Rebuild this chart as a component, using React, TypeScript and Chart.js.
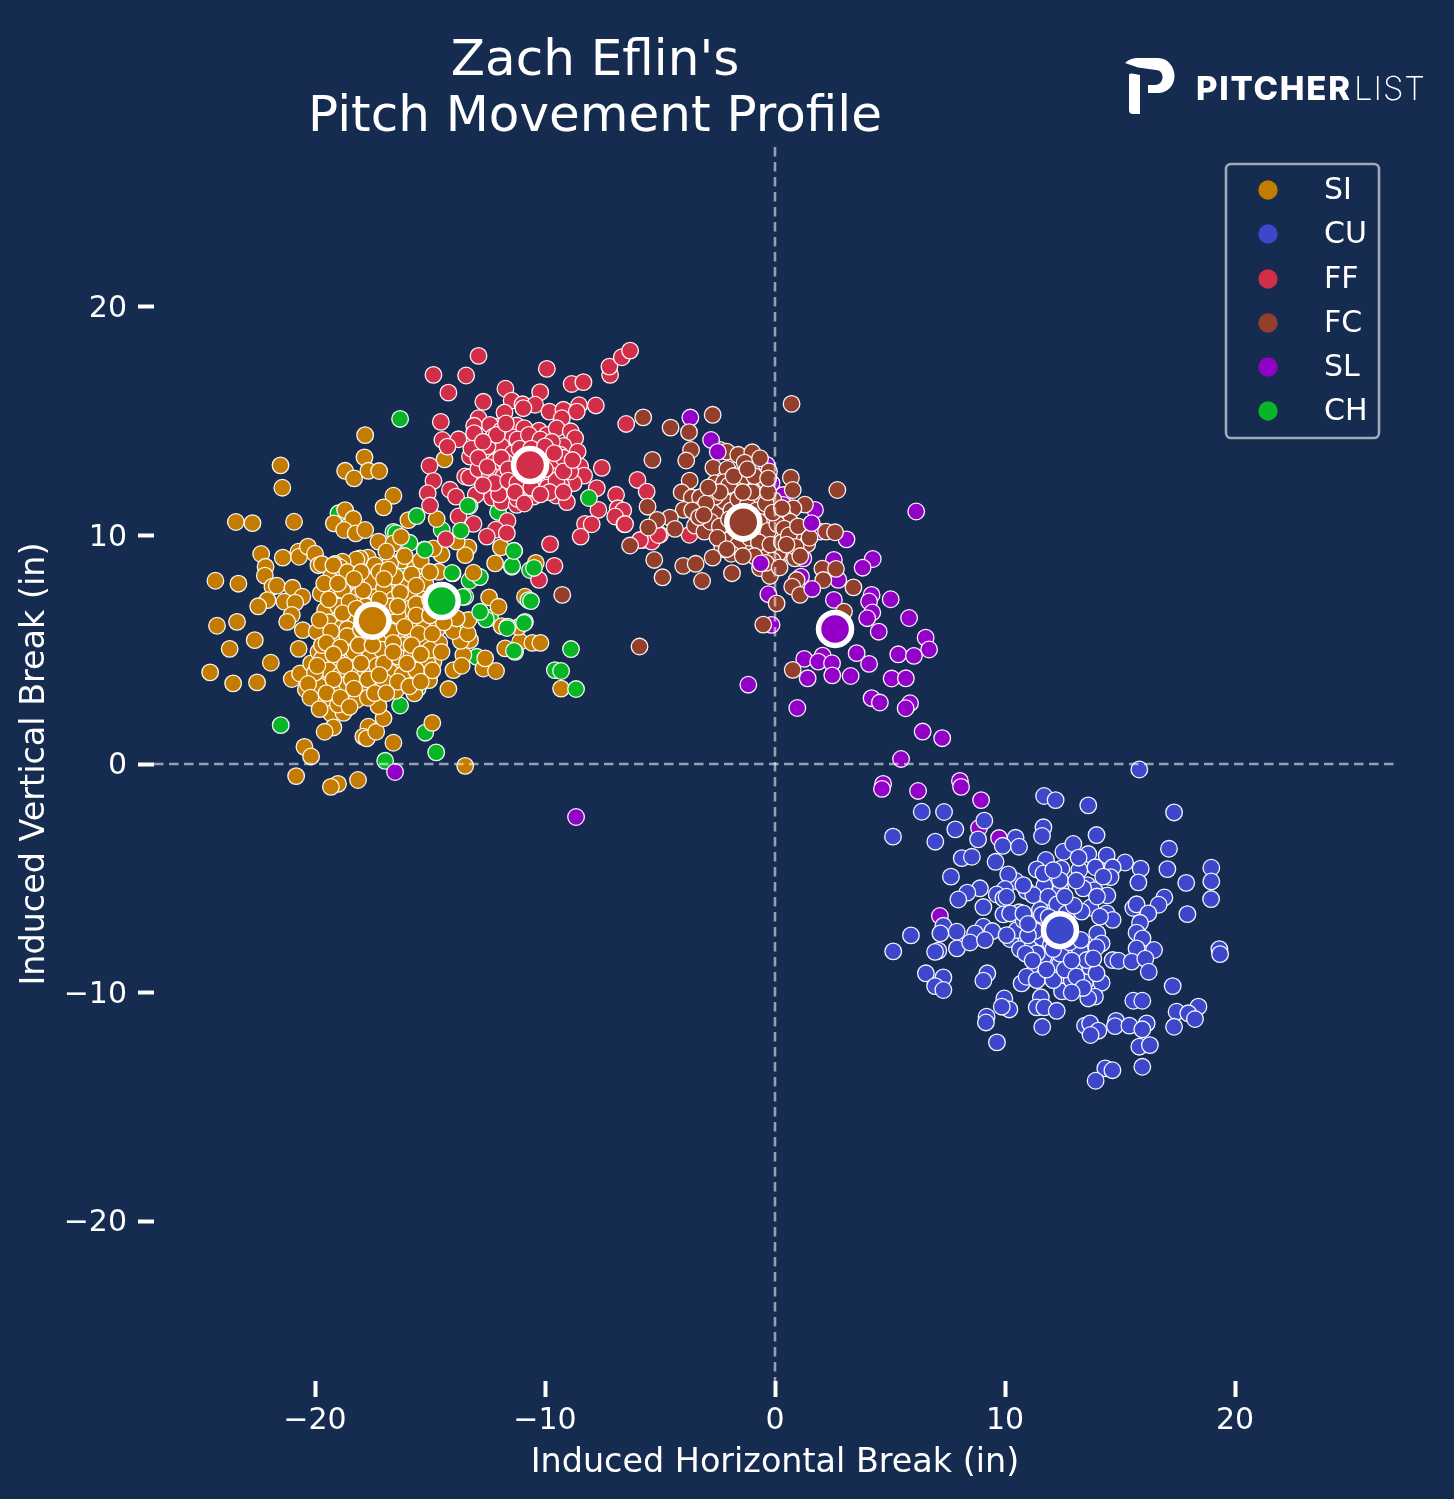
import React, { useEffect, useRef } from "react";
import { Chart, registerables } from "chart.js";

Chart.register(...registerables);

const FONT = "'DejaVu Sans'";
const BG = "#162B50";
const tickVals = [-20, -10, 0, 10, 20];
const legendNames = ["SI", "CU", "FF", "FC", "SL", "CH"];
const colors: Record<string, string> = { SI: "#C47C00", CU: "#3C47CC", FF: "#D22D49", FC: "#933F2C", SL: "#9300C7", CH: "#07B526" };

const siPts = [[-17.82,14.39],[-21.5,13.07],[-21.42,12.09],[-17.85,13.42],[-18.69,12.83],[-18.3,12.5],[-17.68,12.83],[-17.21,12.82],[-16.59,11.74],[-17.02,11.23],[-23.44,10.59],[-22.72,10.54],[-20.91,10.6],[-18.69,11.11],[-18.34,10.73],[-19.18,10.53],[-18.73,10.24],[-18.23,10.09],[-17.82,10.24],[-17.24,9.73],[-16.59,9.65],[-16.26,9.94],[-15.94,10.67],[-14.71,10.72],[-14.37,13.33],[-22.34,9.19],[-22.15,8.63],[-22.18,8.24],[-21.4,9.03],[-20.72,9.29],[-20.69,9.07],[-20.31,9.51],[-20,9.2],[-19.85,8.7],[-19.7,8.75],[-19.13,8.63],[-24.33,8.02],[-23.33,7.89],[-21.85,7.76],[-21.66,7.8],[-20.98,7.71],[-20.55,7.32],[-22.07,7.17],[-22.47,6.9],[-21.33,7.1],[-20.86,7.06],[-21.01,6.52],[-21.21,6.22],[-24.26,6.05],[-23.39,6.22],[-20.53,5.86],[-19.92,5.79],[-22.62,5.42],[-23.71,5.04],[-20.71,5.04],[-21.92,4.43],[-24.56,4.01],[-23.56,3.53],[-22.52,3.57],[-21.01,3.72],[-20.65,3.96],[-20.17,4.4],[-20.4,3.26],[-20.07,3.09],[-19.85,2.8],[-19.56,2.71],[-19.3,2.21],[-18.76,2.24],[-19.2,1.6],[-19.58,1.41],[-20.46,0.75],[-20.17,0.33],[-20.82,-0.53],[-19,-0.87],[-19.31,-1],[-18.13,-0.7],[-16.59,0.93],[-13.47,-0.08],[-14.9,1.8],[-14.2,3.28],[-13.98,4.11],[-15.68,3.09],[-15.04,3.67],[-12.68,4.18],[-12.13,4.07],[-12.6,4.62],[-13.55,4.77],[-13.62,4.3],[-13.26,5.42],[-13.66,5.39],[-13.98,5.82],[-13.36,5.71],[-13.33,6.3],[-13.84,6.37],[-12.43,7.29],[-12.02,6.88],[-13.11,8.37],[-14.63,8.41],[-12.17,8.78],[-11.92,9.48],[-13.33,9.48],[-13.47,9.14],[-14.5,9.17],[-14.85,9.43],[-13.84,9.73],[-17.68,1.63],[-17.9,1.2],[-17.75,1.12],[-17.34,1.41],[-17.02,2],[-17.24,2.53],[-17.17,3.23],[-11.73,5.06],[-11.08,5.35],[-11.15,6],[-11.88,6.03],[-10.87,7.32],[-10.4,8.8],[-10.55,5.3],[-10.2,5.3],[-9.3,3.3],[-17.7,9.03],[-18.04,9],[-18.2,8.95],[-18.8,8.85],[-19.13,8.75],[-16.23,8.9],[-16.73,8.78],[-15.65,8.56],[-18.55,7.97],[-17.68,8.12],[-16.73,7.86],[-16.18,7.8],[-15.47,7.68],[-19.24,7.52],[-19.75,7.46],[-18.4,7.32],[-17.39,7.52],[-16.2,7.1],[-19.56,6.73],[-18.62,6.59],[-16.04,6.47],[-15.5,6.3],[-19.13,5.76],[-16.44,5.64],[-15.79,5.42],[-15.07,5.35],[-18.62,5.28],[-17.24,5.35],[-19.42,4.84],[-19.85,4.91],[-18.62,4.69],[-18.07,4.65],[-16.95,4.59],[-15.65,4.69],[-14.85,4.47],[-16.44,4.26],[-17.43,4.36],[-15.46,4.18],[-19.63,3.72],[-18.66,3.85],[-16.15,3.7],[-16.81,3.45],[-18.04,3.38],[-18.62,3.04],[-19.13,3.45],[-19.3,8.2],[-18.9,8.6],[-17.4,8.7],[-16.9,9.3],[-16.1,9.1],[-15.4,8.9],[-18.8,7.6],[-18.1,7.4],[-17.5,8],[-17,7.7],[-16.5,8.2],[-15.9,7.4],[-15.2,7.9],[-14.8,7.5],[-19,6.9],[-18.5,7.1],[-17.8,6.9],[-17.1,6.7],[-16.6,7.2],[-15.9,6.8],[-15.3,6.9],[-19.4,6.2],[-18.8,6],[-18.2,6.3],[-16.9,6.2],[-16.4,6.5],[-15.8,5.9],[-15.2,6.1],[-14.7,5.9],[-19.1,5.4],[-18.3,5.6],[-17.7,5.5],[-17.1,5.7],[-16.2,5.2],[-15.4,5.5],[-14.6,5.3],[-19.7,4.6],[-19,4.5],[-18.3,4.9],[-17.6,4.8],[-17.1,5],[-16.4,4.7],[-15.8,4.8],[-15.1,4.4],[-19.4,4.1],[-18.9,3.9],[-18.3,4.2],[-17.8,4],[-17.3,4.3],[-16.7,4],[-16.2,3.9],[-15.6,4.1],[-19.8,3.4],[-19.2,3.2],[-18.6,3.5],[-18,3.7],[-17.6,3.4],[-17,3.6],[-16.5,3.2],[-18.2,2.8],[-17.7,2.9],[-19,2.6],[-20,4],[-20.3,3.5],[-17.9,6.1],[-17.4,6.6],[-16.7,6.9],[-18.6,5.9],[-19.7,5.2],[-17.9,7.6],[-15.6,7],[-14.9,6.6],[-14.4,6.2],[-19.2,8.7],[-18.6,8.4],[-18,8.4],[-17.2,8.4],[-16.8,8.5],[-15.8,8.3],[-15,8.4],[-19.6,7.9],[-19,7.9],[-18.3,8.1],[-17,8.1],[-16.3,7.5],[-15.6,7.8],[-15,7.2],[-19.4,7.2],[-18.8,6.6],[-18.2,6.8],[-17.6,6.5],[-17.2,7.2],[-16.4,6.9],[-15.6,6.5],[-15,6.5],[-14.6,6.7],[-19.8,6.3],[-19.3,5.8],[-18.6,5.6],[-18,5.9],[-17.4,6],[-16.7,5.8],[-16.1,6],[-15.5,5.7],[-14.9,5.7],[-19.5,5.3],[-18.9,5.1],[-18.1,5.2],[-17.5,5.2],[-16.6,5.3],[-15.8,5.2],[-15,5],[-14.5,4.9],[-19.2,4.8],[-18.7,4.3],[-18,4.4],[-17,4.4],[-16.6,4.9],[-16,4.4],[-15.4,4.8],[-14.9,4.1],[-19.9,4.3],[-19.2,3.7],[-18.4,3.7],[-17.7,3.7],[-17.2,3.9],[-16.4,3.6],[-15.9,3.4],[-15.4,3.6],[-19.5,3.1],[-18.9,2.9],[-18.3,3.3],[-17.4,3.1],[-16.9,3.1],[-18.5,2.5],[-20.2,2.9],[-19.8,2.4]];
const chPts = [[-21.49,1.7],[-16.3,2.56],[-15.21,1.37],[-14.73,0.51],[-16.95,0.14],[-15.53,3.31],[-17.53,3.06],[-12.97,4.69],[-13.55,6.25],[-13.47,7.32],[-12.88,8.19],[-13.28,8.02],[-14.02,8.34],[-15.24,9.39],[-15.89,9.68],[-16.59,10.16],[-14.49,10.24],[-18.98,10.97],[-16.23,8.27],[-18.4,4.4],[-14.85,4.84],[-15.58,6.95],[-19.2,6.66],[-11.44,8.63],[-11.34,9.33],[-10.65,8.49],[-12.04,11.03],[-12.83,8.18],[-12.39,6.39],[-13.57,7.31],[-9.09,12.73],[-16.48,10.1]];
const chOver = [[-16.3,15.1],[-12.57,6.33],[-12.82,6.66],[-11.3,4.91],[-11.62,6.01],[-10.87,6.22],[-10.72,7.17],[-15.58,10.85],[-13.66,10.21],[-13.28,11.29],[-13.35,11.3],[-9.57,4.11],[-9.3,4.07],[-8.87,5.03],[-8.65,3.28],[-11.35,4.95],[-11.65,5.95],[-10.91,6.17],[-10.61,7.13],[-10.48,8.58],[-11.43,8.67],[-11.35,9.32],[-8.09,11.64],[-15.22,9.37],[-14.04,8.36]];
const ffPts = [[-12.89,17.86],[-14.85,17.03],[-13.43,17],[-14.2,16.25],[-9.92,17.29],[-8.84,16.63],[-8.33,16.71],[-7.17,17.03],[-7.2,17.39],[-6.66,17.8],[-6.3,18.09],[-11.72,16.42],[-10.21,16.27],[-12.68,15.85],[-11.45,15.9],[-10.98,15.74],[-10.43,15.72],[-10.94,15.57],[-11.76,15.38],[-9.81,15.42],[-9.2,15.5],[-8.52,15.7],[-8.62,15.42],[-7.79,15.69],[-9.27,15.13],[-14.53,14.97],[-12.89,15.13],[-13.08,14.8],[-13.08,14.48],[-12.02,14.77],[-12.39,14.84],[-11.23,14.81],[-10.26,14.59],[-9.92,14.4],[-9.49,14.69],[-8.88,14.56],[-8.69,14.26],[-12.24,14.33],[-14.46,14.18],[-13.76,14.21],[-14.24,13.89],[-13,13.82],[-11.66,14.04],[-10.94,14.26],[-10.29,13.96],[-9.2,13.92],[-8.58,13.67],[-11.63,13.6],[-13.26,13.45],[-12.78,13.31],[-9.34,13.53],[-15.02,13.05],[-12.07,12.99],[-8.47,13.02],[-7.53,12.96],[-13.47,12.58],[-13.3,12.54],[-12.58,12.46],[-14.85,12.39],[-8.3,12.62],[-11.91,12.24],[-10.04,12.24],[-8.76,12.29],[-14.13,12],[-13.87,11.7],[-15.1,11.85],[-13.01,11.78],[-12.31,11.66],[-10.87,11.62],[-10.5,11.7],[-9.52,11.75],[-9.05,11.46],[-7.75,12.07],[-15,11.31],[-11.88,11.46],[-11.23,11.34],[-7.68,11.12],[-13.76,10.83],[-11.63,10.64],[-13.11,10.51],[-12.14,10.25],[-12.53,9.95],[-11.66,10.1],[-14.31,9.84],[-8.26,10.51],[-7.97,10.49],[-8.45,9.95],[-6.91,11.78],[-6.84,11.19],[-6.6,11.1],[-6.95,10.83],[-6.55,10.49],[-6.47,14.88],[-5.98,12.43],[-5.58,11.92],[-5.72,9.81],[-5.36,9.73],[-5,10.03],[-3.72,10.03],[-9.78,9.62],[-9.59,8.67],[-10.26,8.06],[-6.52,10.5],[-5.07,10.02],[-5.87,9.8],[-12.3,14],[-11.9,14.6],[-11.4,14.3],[-10.9,14.7],[-10.5,14],[-12.6,13.5],[-12.2,13.2],[-11.9,13.9],[-11.4,13.6],[-10.9,13.4],[-10.3,13.5],[-9.8,13.7],[-9.5,13.1],[-12.9,12.9],[-12.4,12.7],[-11.8,12.6],[-11.3,12.9],[-10.8,12.4],[-10.2,12.7],[-9.7,12.6],[-9.3,12.2],[-8.9,12.8],[-11.5,12.1],[-11,12],[-10.4,12],[-9.9,12.1],[-9.5,12.4],[-12,11.8],[-11.2,11.6],[-12.5,13.9],[-13.2,13.8],[-12.1,14.4],[-11.7,14.9],[-11.2,14.2],[-10.7,14.4],[-10.2,14.2],[-9.7,14.1],[-12.7,14.1],[-12.9,13.4],[-11.7,13.2],[-11.1,13.8],[-10.6,13.8],[-10,13.9],[-9.2,13.4],[-12.5,13],[-11.9,13.4],[-11.6,12.9],[-11,12.6],[-10.5,12.5],[-10,12.9],[-9.2,12.8],[-8.8,13.3],[-12.2,12.3],[-11.6,12.4],[-11.2,12.3],[-10.6,12.1],[-9.8,11.9],[-9.6,13.6],[-10.2,11.8],[-11.3,11.9],[-12.7,12.2],[-10.9,11.4],[-9.2,11.9]];
const fcPts = [[0.72,15.76],[-5.73,15.17],[-2.71,15.28],[-4.54,14.72],[-3.74,14.52],[-3.65,13.74],[-3.86,13.28],[-5.33,13.31],[-2.39,13.74],[-2.1,13.67],[-1.6,13.53],[-0.99,13.64],[-1.32,13.19],[-0.65,13.38],[-0.26,12.8],[-2.68,12.97],[-2.07,12.91],[0.69,12.53],[0.77,11.99],[2.71,11.99],[-3.71,12.4],[-2.61,12.29],[-2.22,12.33],[-1.28,12.46],[-0.55,12.21],[-1.7,11.99],[-0.97,11.96],[-4.06,11.89],[-3.62,11.66],[-3.26,11.67],[-0.58,11.44],[-0.07,11.56],[1.3,11.35],[0.8,11.19],[-5.54,11.26],[-3.97,11.12],[-4.57,10.78],[-5.12,10.68],[-5.51,10.35],[-4.35,10.29],[-3.48,10.43],[-2.93,10.35],[-3.07,10.17],[-3.33,11.12],[-2.83,10.97],[-2.39,11.34],[-2.22,11.09],[-0.44,10.83],[0.36,10.86],[0.65,10.61],[0.19,10.1],[0.8,9.95],[2.22,10.17],[2.61,10.14],[1.4,9.62],[-6.3,9.56],[-2.35,9.73],[-2.29,9.41],[-1.33,9.44],[-0.44,9.37],[0.54,9.27],[0.87,9],[0.14,9.22],[-5.25,8.93],[-2.71,9.03],[-3.99,8.67],[-3.45,8.76],[-1.87,8.35],[-4.89,8.17],[-3.17,8.01],[-0.65,8.57],[-0.22,8.23],[2.06,8.55],[2.65,8.54],[2.1,8.05],[0.94,8.05],[0.75,7.76],[1.09,7.4],[3.41,7.73],[0.07,7.03],[3,6.67],[-0.51,6.1],[-5.89,5.14],[0.77,4.12],[-9.25,7.4],[-2.6,11],[-2.2,11.5],[-1.9,11.1],[-1.6,11.6],[-1.2,11.3],[-0.8,11.1],[-0.4,11.4],[-2.8,10.6],[-2.4,10.4],[-2,10.7],[-1.7,10.2],[-1,10.3],[-0.7,10.6],[-0.3,10.2],[0.1,10.5],[0.4,10.3],[-2,9.8],[-1.6,9.6],[-1.1,9.9],[-0.7,9.7],[-0.2,9.6],[0.3,9.7],[-1.9,9.2],[-0.9,9.1],[-0.1,8.9],[-2.6,11.7],[-3,11.4],[-1,11.9],[-2,12.2],[-0.3,11.9],[0.6,10],[1,10.4],[0.9,9.5],[-3.6,11.1],[-3.3,10.8],[-1.4,11.9],[-2.4,11.9],[-1.8,12.6],[-0.9,12.6],[-2.9,12.1],[-3.1,10.9],[-2.5,9.9],[-2.1,9.4],[-1.4,9.1],[-0.4,8.8],[0.2,8.6],[-0.1,11],[0.3,11.2],[0.5,9.6],[1.1,9.1],[1.5,9.9],[-1.2,12.9],[-1.4,10.1],[-0.3,12.5]];
const slPts = [[-3.68,15.16],[-0.36,13.09],[-0.15,12.29],[0.36,11.77],[0.36,11.34],[1.74,11.12],[3.11,9.83],[6.14,11.05],[1.96,10.17],[1.23,9.8],[0.22,9.8],[1.23,9],[2.56,8.93],[4.25,8.97],[3.81,8.59],[1.13,8.2],[2.75,8.06],[-0.29,7.43],[-0.15,6.09],[2.56,7.18],[4.2,7.4],[4.09,7.11],[5.03,7.21],[4.23,6.63],[4.01,6.38],[5.83,6.39],[4.51,5.79],[6.55,5.53],[6.7,5.01],[5.36,4.8],[6.04,4.73],[3.55,4.85],[4.09,4.38],[2.07,4.74],[1.27,4.6],[1.88,4.48],[2.48,4.41],[2.49,3.88],[3.29,3.85],[1.42,3.75],[5.07,3.74],[5.69,3.75],[-1.16,3.47],[4.2,2.88],[4.56,2.69],[0.97,2.45],[5.87,2.66],[5.68,2.44],[6.42,1.42],[7.27,1.13],[5.48,0.22],[4.7,-0.87],[4.65,-1.09],[6.22,-1.18],[8.04,-0.74],[8.09,-1],[8.96,-1.58],[9.74,-3.24],[8.87,-2.8],[7.17,-6.65],[-16.52,-0.35],[-8.65,-2.32]];
const slOver = [[-2.78,14.18],[-2.49,13.66],[1.59,10.54],[-0.62,8.78],[1.62,7.66]];
const cuPts = [[15.84,-0.24],[11.7,-1.4],[12.2,-1.58],[13.62,-1.81],[17.35,-2.12],[6.38,-2.09],[7.35,-2.1],[9.1,-2.48],[5.13,-3.18],[6.97,-3.4],[7.84,-2.86],[8.83,-3.3],[10.46,-3.23],[9.9,-3.58],[10.61,-3.62],[11.67,-2.77],[11.61,-3.15],[13.98,-3.11],[17.13,-3.71],[8.12,-4.12],[8.56,-4.06],[9.59,-4.28],[12.54,-3.84],[12.97,-3.5],[13.62,-3.94],[14.42,-4],[15.22,-4.31],[11.78,-4.2],[11.38,-4.61],[12.45,-4.58],[13.23,-4.64],[13.93,-4.52],[14.68,-4.52],[15.9,-4.58],[17.06,-4.6],[18.97,-4.54],[7.65,-4.93],[10.46,-5.12],[10.14,-4.83],[14.59,-4.95],[18.97,-5.14],[15.8,-5.18],[17.88,-5.2],[8.91,-5.44],[10,-5.47],[11.71,-5.33],[12.42,-5.49],[13.58,-5.3],[13.88,-5.52],[10.94,-5.55],[8.36,-5.63],[7.97,-5.93],[9.64,-5.71],[9.93,-5.88],[11.23,-5.74],[11.88,-5.81],[14.45,-5.75],[16.93,-5.84],[18.96,-5.91],[16.68,-6.16],[15.58,-6.3],[15.72,-6.14],[9.06,-6.26],[12.27,-6.14],[13.72,-6.28],[9.93,-6.58],[10.61,-6.49],[11.52,-6.39],[16.23,-6.54],[17.93,-6.57],[14.42,-6.54],[14.68,-6.82],[15.87,-6.95],[11.45,-6.9],[7.32,-7.08],[7.19,-7.41],[5.91,-7.5],[7.9,-7.34],[9.06,-7.12],[9.45,-7.31],[8.7,-7.41],[14.01,-7.41],[15.72,-7.38],[5.14,-8.2],[7.1,-8.17],[6.96,-8.22],[7.91,-8.07],[8.48,-7.81],[9.13,-7.7],[10.22,-7.66],[10.65,-8.1],[11.2,-7.78],[13.81,-8.1],[14.2,-7.85],[15.98,-7.63],[15.72,-8.07],[16.48,-8.14],[19.32,-8.1],[19.35,-8.32],[14.68,-8.58],[14.93,-8.61],[15.51,-8.65],[16.1,-8.52],[16.25,-9.09],[13.7,-8.9],[13,-8.99],[12.07,-8.65],[11.33,-8.97],[11.74,-9.19],[6.56,-9.16],[7.32,-9.34],[6.96,-9.72],[7.32,-9.89],[9.23,-9.16],[9.06,-9.48],[10.72,-9.6],[13.48,-9.56],[14.2,-9.57],[17.29,-9.72],[12.48,-9.95],[13.91,-10.18],[13.62,-10.26],[11.56,-10.21],[9.97,-10.26],[10.19,-10.74],[9.86,-10.62],[11.38,-10.65],[11.71,-10.65],[12.25,-10.8],[15.58,-10.36],[15.97,-10.36],[18.41,-10.62],[17.46,-10.84],[17.97,-10.91],[18.26,-11.16],[17.35,-11.5],[9.2,-11.06],[9.17,-11.31],[11.62,-11.5],[13.48,-11.45],[13.7,-11.35],[14.06,-11.67],[13.72,-11.86],[14.83,-11.24],[14.78,-11.47],[15.41,-11.45],[16.16,-11.35],[15.97,-11.61],[15.84,-12.37],[16.3,-12.3],[9.65,-12.18],[15.97,-13.25],[14.36,-13.32],[14.67,-13.4],[13.94,-13.86],[12.83,-8.14],[11.67,-8],[13.26,-8.14],[10.51,-7.27],[10.8,-6.83],[11.09,-6.98],[11.67,-8.43],[12.39,-9.24],[12.9,-9.46],[10.94,-9.31],[11.38,-9.46],[12.1,-9.46],[13.55,-8.58],[13.98,-9.16],[10.07,-7.49],[12.68,-6.54],[13.33,-6.46],[14.13,-6.68],[11.38,-8.29],[12.39,-8.73],[13.98,-8.02],[13.84,-8.51],[10.22,-6.54],[10.8,-6.54],[10.07,-5.81],[13.4,-5.44],[12.39,-5.08],[11.67,-4.79],[12.1,-4.64],[14.27,-4.93],[11.6,-7.6],[12,-7.9],[12.4,-8.3],[12.8,-7.8],[13.3,-7.7],[11.3,-7.3],[11,-7.5],[10.9,-8.3],[11.2,-8.6],[11.8,-9],[12.6,-9],[13.1,-9.3],[12.1,-8.1],[12.9,-8.6],[11.6,-6.6],[11.9,-6.7],[13,-6.2],[12.6,-5.8],[13.1,-5.1],[14,-5.8],[13.2,-4.1],[10.8,-5.3],[11,-7],[13.4,-9.8],[12.9,-10]];
const meanPts: Record<string, number[]> = { SI: [-17.5, 6.27], CU: [12.39, -7.27], FF: [-10.65, 13.08], FC: [-1.38, 10.58], SL: [2.61, 5.91], CH: [-14.49, 7.13] };
const zeroXLine = [[0, 27], [0, -27]];
const zeroYLine = [[-27, 0], [27, 0]];

const toXY = (rows: number[][]) => rows.map(([x, y]) => ({ x, y }));

const pitchSet = (key: string, rows: number[][], order: number) => ({
  label: key, data: toXY(rows), order, backgroundColor: colors[key], borderColor: "rgba(255,255,255,0.95)",
  borderWidth: 1.3, pointRadius: 8.3, pointHoverRadius: 8.3,
});
const meanSet = (key: string) => ({
  label: key + " mean", data: toXY([meanPts[key]]), order: 0, backgroundColor: colors[key], borderColor: "#ffffff",
  borderWidth: 5.5, pointRadius: 16.5, pointHoverRadius: 16.5,
});
const zeroSet = (rows: number[][]) => ({
  label: "zero", data: toXY(rows), order: 1, showLine: true, pointRadius: 0, borderColor: "rgba(255,255,255,0.55)",
  borderWidth: 2.6, borderDash: [9.5, 5.5],
});

const backdrop = {
  id: "backdrop",
  beforeDraw(chart: any) {
    const c = chart.ctx;
    c.save(); c.fillStyle = BG; c.fillRect(0, 0, chart.width, chart.height); c.restore();
    if (chart.titleBlock) { chart.titleBlock.left = 0; chart.titleBlock.right = 1190; }
  },
};

const fitText = (c: any, text: string, x: number, y: number, width: number) => {
  c.letterSpacing = "0px";
  const w = c.measureText(text).width;
  c.letterSpacing = `${(width - w) / (text.length - 1)}px`;
  c.fillText(text, x, y);
  c.letterSpacing = "0px";
};

const overlay = {
  id: "overlay",
  afterDraw(chart: any) {
    const c = chart.ctx;
    c.save();
    // legend
    c.strokeStyle = "rgba(255,255,255,0.6)"; c.lineWidth = 2.6;
    c.beginPath(); c.roundRect(1226, 164, 153, 274, 5); c.stroke();
    const ys = [190, 234, 279, 323, 367, 411];
    legendNames.forEach((n, i) => {
      c.fillStyle = colors[n]; c.beginPath(); c.arc(1268, ys[i], 9.7, 0, Math.PI * 2); c.fill();
      c.fillStyle = "#fff"; c.font = `30px ${FONT}`; c.textAlign = "left"; c.textBaseline = "middle";
      c.fillText(n, 1324, ys[i] + 0.8);
    });
    // logo
    c.fillStyle = "#fff";
    c.beginPath();
    c.moveTo(1125, 63); c.quadraticCurveTo(1130, 58, 1138, 58); c.lineTo(1158, 58);
    c.bezierCurveTo(1168, 58, 1174.5, 67, 1174.5, 76); c.bezierCurveTo(1174.5, 86, 1167, 93, 1158, 93);
    c.lineTo(1148, 93); c.lineTo(1148, 85); c.lineTo(1155, 85);
    c.bezierCurveTo(1160, 85, 1162.5, 81, 1162.5, 77); c.bezierCurveTo(1162.5, 73, 1160, 70, 1156, 70);
    c.lineTo(1138, 67.5); c.closePath(); c.fill();
    c.beginPath();
    c.moveTo(1129, 75); c.quadraticCurveTo(1129, 73, 1132, 73.5); c.lineTo(1140, 75); c.lineTo(1140, 114);
    c.lineTo(1133, 114); c.quadraticCurveTo(1129, 114, 1129, 110); c.closePath(); c.fill();
    c.textBaseline = "alphabetic"; c.textAlign = "left";
    c.font = "800 33px Inter"; fitText(c, "PITCHER", 1196, 100, 154);
    c.font = "200 33px Inter"; fitText(c, "LIST", 1354, 100, 71);
    c.restore();
  },
};

export default function App() {
  const ref = useRef<HTMLCanvasElement | null>(null);
  useEffect(() => {
    document.body.style.margin = "0";
    document.body.style.background = BG;
    const chart = new Chart(ref.current as HTMLCanvasElement, {
      type: "scatter",
      data: {
        datasets: [
          pitchSet("CH", chPts, 9),
          pitchSet("SL", slPts, 8),
          pitchSet("SI", siPts, 7),
          pitchSet("CU", cuPts, 6),
          pitchSet("FF", ffPts, 5),
          pitchSet("FC", fcPts, 4),
          pitchSet("CH", chOver, 3),
          pitchSet("SL", slOver, 2),
          zeroSet(zeroXLine),
          zeroSet(zeroYLine),
          ...legendNames.map(meanSet),
        ] as any,
      },
      options: {
        animation: false,
        responsive: false,
        devicePixelRatio: 1,
        layout: { padding: { top: 0, right: 58, bottom: 0, left: 0 } },
        plugins: {
          legend: { display: false },
          tooltip: { enabled: false },
          title: {
            display: true,
            text: ["Zach Eflin's", "Pitch Movement Profile"],
            color: "#fff",
            align: "center",
            font: { family: FONT, size: 50, weight: "normal", lineHeight: 56 / 50 },
            padding: { top: 34, bottom: 1 },
          },
        },
        scales: {
          x: {
            type: "linear", min: -27, max: 27,
            border: { display: false },
            grid: { drawOnChartArea: false, drawTicks: true, tickColor: "#fff", tickWidth: 4, tickLength: 16 },
            ticks: { color: "#fff", font: { family: FONT, size: 30 }, padding: 6, maxRotation: 0, callback: (v: any) => String(v).replace("-", "\u2212") },
            title: { display: true, text: "Induced Horizontal Break (in)", color: "#fff", font: { family: FONT, size: 33.4 }, padding: { bottom: 16 } },
            afterBuildTicks: (s: any) => { s.ticks = tickVals.map((value) => ({ value })); },
            afterFit: (s: any) => { s.height = 118; },
          },
          y: {
            type: "linear", min: -27, max: 27,
            border: { display: false },
            grid: { drawOnChartArea: false, drawTicks: true, tickColor: "#fff", tickWidth: 4, tickLength: 16 },
            ticks: { color: "#fff", font: { family: FONT, size: 30 }, padding: 11, labelOffset: 2.5, callback: (v: any) => String(v).replace("-", "\u2212") },
            title: { display: true, text: "Induced Vertical Break (in)", color: "#fff", font: { family: FONT, size: 33.4 }, padding: { top: 15 } },
            afterBuildTicks: (s: any) => { s.ticks = tickVals.map((value) => ({ value })); },
            afterFit: (s: any) => { s.width = 154; },
          },
        },
      },
      plugins: [backdrop, overlay],
    } as any);
    return () => chart.destroy();
  }, []);
  return <canvas ref={ref} width={1454} height={1499} style={{ display: "block", width: 1454, height: 1499 }} />;
}
